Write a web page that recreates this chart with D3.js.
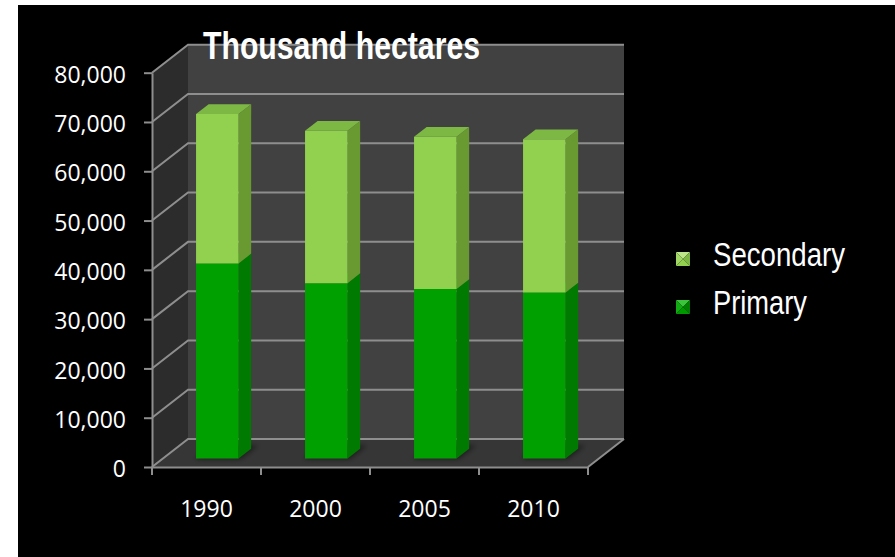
<!DOCTYPE html>
<html>
<head>
<meta charset="utf-8">
<script src="https://cdn.jsdelivr.net/npm/d3@7"></script>
<style>
html,body{margin:0;padding:0;background:#fff;}
svg{display:block;}
</style>
</head>
<body>
<svg id="chart" width="895" height="557"></svg>
<script>
// ---- data ----
const years = ["1990", "2000", "2005", "2010"];
const primary = [39600, 35600, 34400, 33700];
const secondary = [30300, 30900, 30900, 31100];
const yTicks = [0, 10000, 20000, 30000, 40000, 50000, 60000, 70000, 80000];
const seriesNames = ["Secondary", "Primary"];
const titleText = "Thousand hectares";

// ---- layout ----
const svg = d3.select("#chart");
svg.append("rect").attr("x", 18).attr("y", 5).attr("width", 877).attr("height", 552).attr("fill", "#000");

const yFront = d3.scaleLinear().domain([0, 80000]).range([467, 72.7]);
const xBand = d3.scaleBand().domain(years).range([152, 588]);
const barBand = d3.scaleBand().domain(years).range([152, 588]).paddingInner(0.61).paddingOuter(0.305);
const DX = 36, DY = -28;
const proj = (x, v, d) => [x + DX * d, yFront(v) + DY * d];
const poly = pts => "M" + pts.map(p => p[0].toFixed(2) + "," + p[1].toFixed(2)).join("L") + "Z";

const x0 = xBand.range()[0], x1 = xBand.range()[1];
const vMax = 80000;

// walls & floor
svg.append("path").attr("d", poly([proj(x0, vMax, 1), proj(x1, vMax, 1), proj(x1, 0, 1), proj(x0, 0, 1)])).attr("fill", "#414141");
svg.append("path").attr("d", poly([proj(x0, vMax, 0), proj(x0, vMax, 1), proj(x0, 0, 1), proj(x0, 0, 0)])).attr("fill", "#2c2c2c");
svg.append("path").attr("d", poly([proj(x0, 0, 0), proj(x1, 0, 0), proj(x1, 0, 1), proj(x0, 0, 1)])).attr("fill", "#363636");

// gridlines
const grid = svg.append("g").attr("stroke", "#8e8e8e").attr("stroke-width", 2).attr("fill", "none");
yTicks.forEach(v => {
  const a = proj(x0, v, 0), b = proj(x0, v, 1), c = proj(x1, v, 1);
  grid.append("path").attr("d", `M${a[0]},${a[1]}L${b[0]},${b[1]}L${c[0]},${c[1]}`);
});
{
  const a = proj(x1, 0, 0), b = proj(x1, 0, 1);
  grid.append("path").attr("d", `M${a[0]},${a[1]}L${b[0]},${b[1]}`);
}

// shadow filter
const defs = svg.append("defs");
defs.append("filter").attr("id", "blur").attr("x", "-50%").attr("y", "-50%").attr("width", "200%").attr("height", "200%")
  .append("feGaussianBlur").attr("stdDeviation", 2.5);

// bars
const rows = years.map((y, i) => ({ year: y, primary: primary[i], secondary: secondary[i] }));
const stack = d3.stack().keys(["primary", "secondary"])(rows);
const colors = {
  primary: { front: "#00a000", side: "#007a00", top: "#008f00" },
  secondary: { front: "#92d050", side: "#689a31", top: "#7db844" }
};
const D0 = 0.3, D1 = 0.65;
const bw = barBand.bandwidth();

const shadowG = svg.append("g").attr("filter", "url(#blur)");
rows.forEach(r => {
  const bx = barBand(r.year);
  shadowG.append("path")
    .attr("d", poly([proj(bx - 1, 0, D0 - 0.02), proj(bx + bw + 3, 0, D0 - 0.02), proj(bx + bw + 3, 0, D1 + 0.12), proj(bx - 1, 0, D1 + 0.12)]))
    .attr("fill", "#000").attr("opacity", 0.45);
});

const barsG = svg.append("g");
years.forEach((yr, i) => {
  const bx = barBand(yr), bx2 = bx + bw;
  stack.forEach(layer => {
    const seg = layer[i];
    const v0 = seg[0], v1 = seg[1];
    const c = colors[layer.key];
    const g = barsG.append("g");
    g.append("path").attr("d", poly([proj(bx2, v0, D0), proj(bx2, v0, D1), proj(bx2, v1, D1), proj(bx2, v1, D0)])).attr("fill", c.side);
    g.append("path").attr("d", poly([proj(bx, v1, D0), proj(bx2, v1, D0), proj(bx2, v1, D1), proj(bx, v1, D1)])).attr("fill", c.top);
    g.append("path").attr("d", poly([proj(bx, v0, D0), proj(bx2, v0, D0), proj(bx2, v1, D0), proj(bx, v1, D0)])).attr("fill", c.front);
  });
});

// y axis
const yAxis = svg.append("g").attr("transform", "translate(152,0)")
  .call(d3.axisLeft(yFront).tickValues(yTicks).tickSize(8).tickSizeOuter(0).tickPadding(18).tickFormat(d3.format(",")));
yAxis.selectAll("path, line").attr("stroke", "#8e8e8e").attr("stroke-width", 2);
yAxis.selectAll("text").attr("fill", "#fff").attr("dy", "0.42em")
  .style("font-family", "'Open Sans', 'DejaVu Sans', sans-serif").style("font-size", "23px");

// x axis
const xAxis = svg.append("g").attr("transform", "translate(0,467)")
  .call(d3.axisBottom(xBand).tickSize(0).tickSizeOuter(0).tickPadding(34));
xAxis.select(".domain").attr("stroke", "#8e8e8e").attr("stroke-width", 2);
xAxis.selectAll("text").attr("fill", "#fff")
  .style("font-family", "'Open Sans', 'DejaVu Sans', sans-serif").style("font-size", "23px");
const bounds = years.map(y => xBand(y)).concat([xBand.range()[1]]);
xAxis.selectAll("line.bound").data(bounds).enter().append("line").attr("class", "bound")
  .attr("x1", d => d).attr("x2", d => d).attr("y1", 0).attr("y2", 8)
  .attr("stroke", "#8e8e8e").attr("stroke-width", 2);

// title
svg.append("text").attr("x", 203).attr("y", 59).text(titleText)
  .attr("fill", "#fff").attr("textLength", 277).attr("lengthAdjust", "spacingAndGlyphs")
  .style("font-family", "'Liberation Sans Narrow', 'Liberation Sans', Arial, sans-serif")
  .style("font-weight", "bold").style("font-size", "38px");

// legend
const legendData = [
  { name: seriesNames[0], y: 252, len: 132, shades: ["#bde58a", "#a2d766", "#7db844", "#92d050"] },
  { name: seriesNames[1], y: 300, len: 94, shades: ["#3cc43c", "#12aa12", "#007f00", "#009a00"] }
];
const lg = svg.append("g");
legendData.forEach(d => {
  const x = 676, y = d.y, s = 14, cx = x + s / 2, cy = y + s / 2;
  const tris = [
    [[x, y], [x + s, y], [cx, cy]],
    [[x, y], [cx, cy], [x, y + s]],
    [[x + s, y], [x + s, y + s], [cx, cy]],
    [[x, y + s], [cx, cy], [x + s, y + s]]
  ];
  tris.forEach((t, k) => lg.append("path").attr("d", poly(t)).attr("fill", d.shades[k]));
  lg.append("text").attr("x", 713).attr("y", y + 13.5).text(d.name)
    .attr("fill", "#fff").attr("textLength", d.len).attr("lengthAdjust", "spacingAndGlyphs")
    .style("font-family", "'Liberation Sans Narrow', 'Liberation Sans', Arial, sans-serif")
    .style("font-size", "33px");
});
</script>
</body>
</html>
